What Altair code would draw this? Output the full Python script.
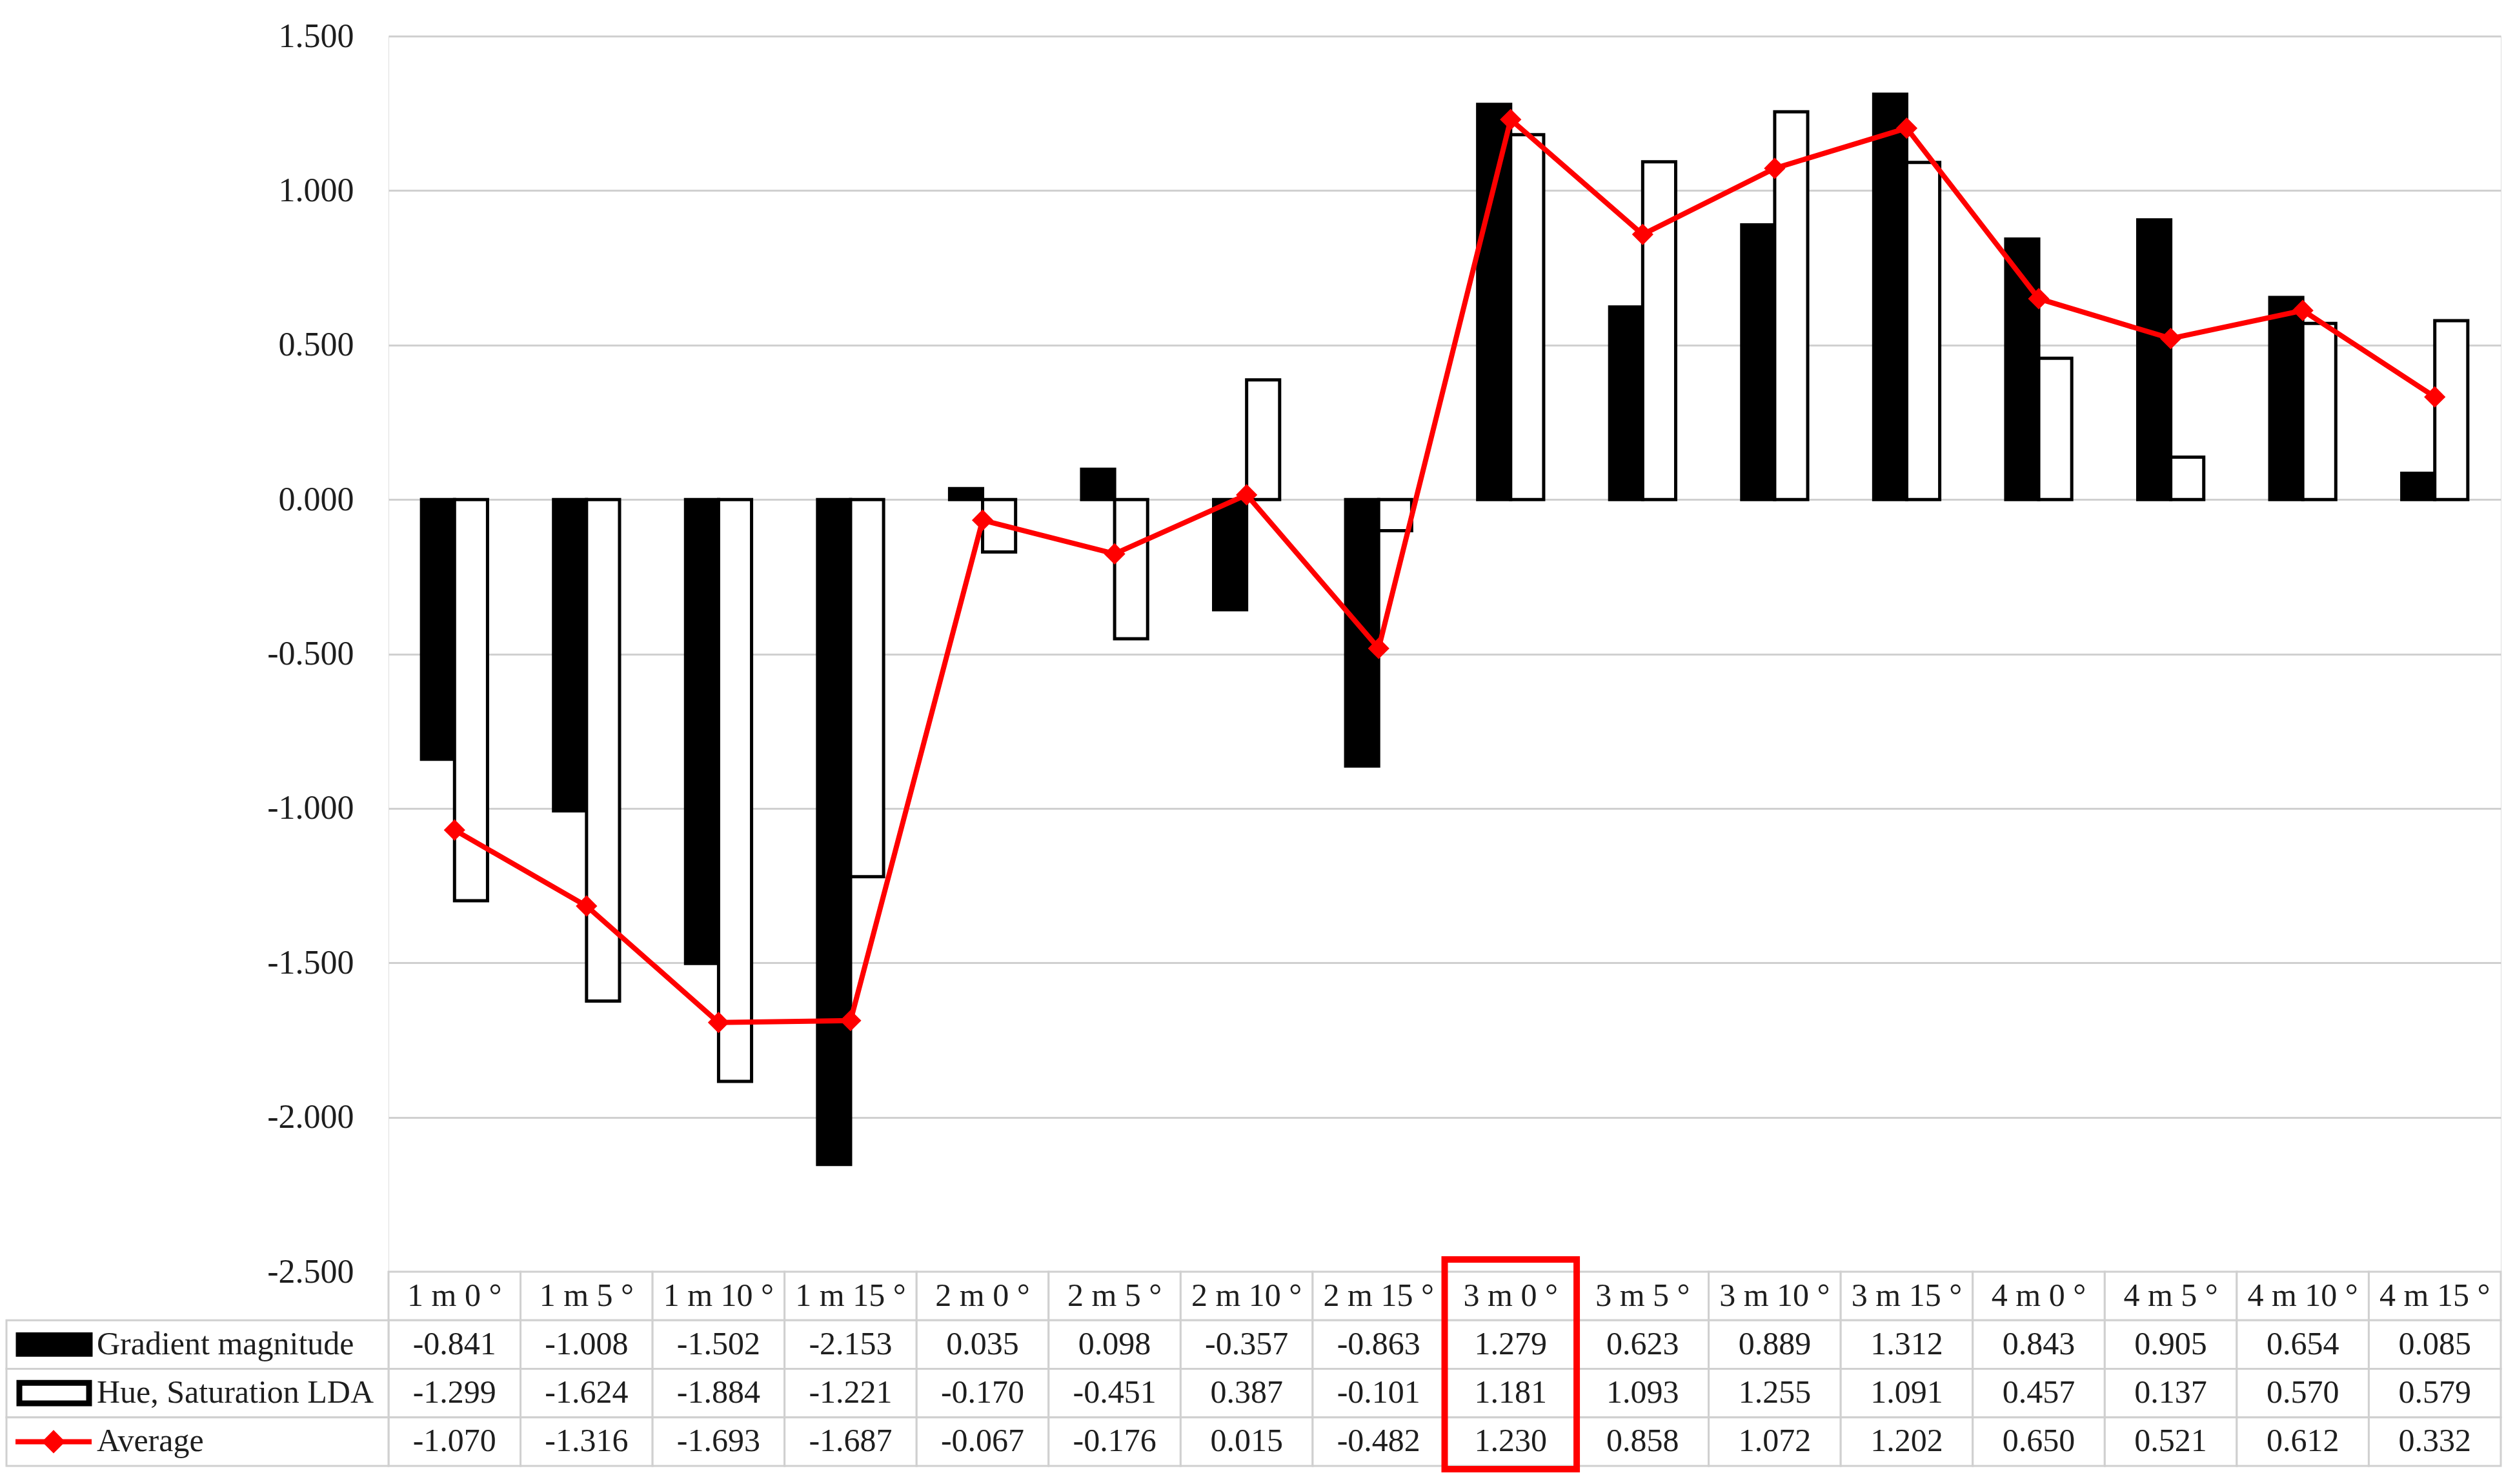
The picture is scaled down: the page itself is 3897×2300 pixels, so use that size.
import altair as alt
import pandas as pd

categories = ["1 m 0 °", "1 m 5 °", "1 m 10 °", "1 m 15 °",
              "2 m 0 °", "2 m 5 °", "2 m 10 °", "2 m 15 °",
              "3 m 0 °", "3 m 5 °", "3 m 10 °", "3 m 15 °",
              "4 m 0 °", "4 m 5 °", "4 m 10 °", "4 m 15 °"]
gradient = [-0.841, -1.008, -1.502, -2.153, 0.035, 0.098, -0.357, -0.863,
            1.279, 0.623, 0.889, 1.312, 0.843, 0.905, 0.654, 0.085]
hue = [-1.299, -1.624, -1.884, -1.221, -0.170, -0.451, 0.387, -0.101,
       1.181, 1.093, 1.255, 1.091, 0.457, 0.137, 0.570, 0.579]
average = [-1.070, -1.316, -1.693, -1.687, -0.067, -0.176, 0.015, -0.482,
           1.230, 0.858, 1.072, 1.202, 0.650, 0.521, 0.612, 0.332]
series_names = ["Gradient magnitude", "Hue, Saturation LDA", "Average"]
highlight = ["3 m 0 °"]
y_ticks = [-2.5, -2.0, -1.5, -1.0, -0.5, 0.0, 0.5, 1.0, 1.5]

FONT = "Liberation Serif"
TXT = "#1e1e1e"
GRID = "#d0d0d0"
RED = "#ff0000"
PLOT_W, PLOT_H, TABLE_H = 3273, 1915, 301
LEG_W = 592
TFS = 50

# ---------- main bar / line chart ----------
bars_df = pd.DataFrame(
    [{"cat": c, "series": series_names[0], "value": v} for c, v in zip(categories, gradient)]
    + [{"cat": c, "series": series_names[1], "value": v} for c, v in zip(categories, hue)]
)
avg_df = pd.DataFrame({"cat": categories, "value": average})

x_bar = alt.X("cat:N", sort=categories, axis=None,
              scale=alt.Scale(paddingInner=0.5, paddingOuter=0.25))
y_val = alt.Y("value:Q",
              scale=alt.Scale(domain=[-2.5, 1.5], nice=False, zero=False),
              axis=alt.Axis(values=y_ticks, title=None,
                            labelExpr="replace(format(datum.value, '.3f'), '\u2212', '-')",
                            labelFont=FONT, labelFontSize=52, labelColor=TXT,
                            labelPadding=54, ticks=False, tickSize=0, domain=False,
                            gridColor=GRID, gridWidth=3))

bars = alt.Chart(bars_df).mark_bar(stroke="black", strokeWidth=5).encode(
    x=x_bar,
    xOffset=alt.XOffset("series:N", sort=series_names[:2]),
    y=y_val,
    color=alt.Color("series:N", scale=alt.Scale(domain=series_names[:2], range=["#000000", "#ffffff"]),
                    legend=None),
)
line = alt.Chart(avg_df).mark_line(color=RED, strokeWidth=8).encode(x=x_bar, y=y_val)
pts = alt.Chart(avg_df).mark_point(shape="diamond", filled=True, color=RED, size=1100, opacity=1).encode(
    x=x_bar, y=y_val)

top = alt.layer(bars, line, pts).properties(width=PLOT_W, height=PLOT_H)

# ---------- data table ----------
rows = []
for i, c in enumerate(categories):
    rows.append({"cat": c, "row": 0, "label": c})
    rows.append({"cat": c, "row": 1, "label": f"{gradient[i]:.3f}"})
    rows.append({"cat": c, "row": 2, "label": f"{hue[i]:.3f}"})
    rows.append({"cat": c, "row": 3, "label": f"{average[i]:.3f}"})
table_df = pd.DataFrame(rows)
leg_df = pd.DataFrame({"series": series_names, "row": [1, 2, 3]})
hl_df = pd.DataFrame({"cat": highlight})

x_tab = alt.X("cat:N", sort=categories, axis=None,
              scale=alt.Scale(paddingInner=0, paddingOuter=0))
ysc = alt.Scale(domain=[0, 4], reverse=True, nice=False, zero=False)


def yq(field):
    return alt.Y(f"{field}:Q", scale=ysc, axis=None)


cells = alt.Chart(table_df).transform_calculate(
    r0="datum.row", r1="datum.row + 1"
).mark_rect(fill="white", stroke=GRID, strokeWidth=3).encode(
    x=x_tab, y=yq("r0"), y2="r1:Q")

cell_text = alt.Chart(table_df).transform_calculate(
    mid="datum.row + 0.5"
).mark_text(font=FONT, fontSize=TFS, color=TXT).encode(
    x=x_tab, y=yq("mid"), text="label:N")

leg_cells = alt.Chart(leg_df).transform_calculate(
    r0="datum.row", r1="datum.row + 1"
).mark_rect(fill="white", stroke=GRID, strokeWidth=3).encode(
    x=alt.value(-LEG_W), x2=alt.value(0), y=yq("r0"), y2="r1:Q")

leg_text = alt.Chart(leg_df).transform_calculate(
    mid="datum.row + 0.5"
).mark_text(font=FONT, fontSize=TFS, color=TXT, align="left").encode(
    x=alt.value(-452), y=yq("mid"), text="series:N")

g_black = alt.Chart(leg_df).transform_filter(
    alt.datum.series == series_names[0]
).transform_calculate(
    t="datum.row + 0.27", b="datum.row + 0.73"
).mark_rect(fill="black", stroke="black", strokeWidth=3).encode(
    x=alt.value(-576), x2=alt.value(-460), y=yq("t"), y2="b:Q")

g_white = alt.Chart(leg_df).transform_filter(
    alt.datum.series == series_names[1]
).transform_calculate(
    t="datum.row + 0.29", b="datum.row + 0.71"
).mark_rect(fill="white", stroke="black", strokeWidth=9).encode(
    x=alt.value(-572), x2=alt.value(-464), y=yq("t"), y2="b:Q")

g_line = alt.Chart(leg_df).transform_filter(
    alt.datum.series == series_names[2]
).transform_calculate(
    mid="datum.row + 0.5"
).mark_rule(color=RED, strokeWidth=8).encode(
    x=alt.value(-578), x2=alt.value(-460), y=yq("mid"))

g_pt = alt.Chart(leg_df).transform_filter(
    alt.datum.series == series_names[2]
).transform_calculate(
    mid="datum.row + 0.5"
).mark_point(shape="diamond", filled=True, color=RED, size=1300, opacity=1).encode(
    x=alt.value(-519), y=yq("mid"))

hl_box = alt.Chart(hl_df).mark_rect(fillOpacity=0, stroke=RED, strokeWidth=10).encode(
    x=x_tab, y=alt.value(-19), y2=alt.value(TABLE_H + 5))

table = alt.layer(cells, cell_text, leg_cells, leg_text, g_black, g_white, g_line, g_pt, hl_box).properties(
    width=PLOT_W, height=TABLE_H)

chart = alt.vconcat(top, table, spacing=0, bounds="flush").properties(
    padding={"left": 0, "top": 21, "right": 0, "bottom": 0}
).configure_view(fill="#f2f2f2", strokeWidth=0).configure(background="white")

chart.save("out.html", embed_options={"renderer": "svg", "actions": False})
